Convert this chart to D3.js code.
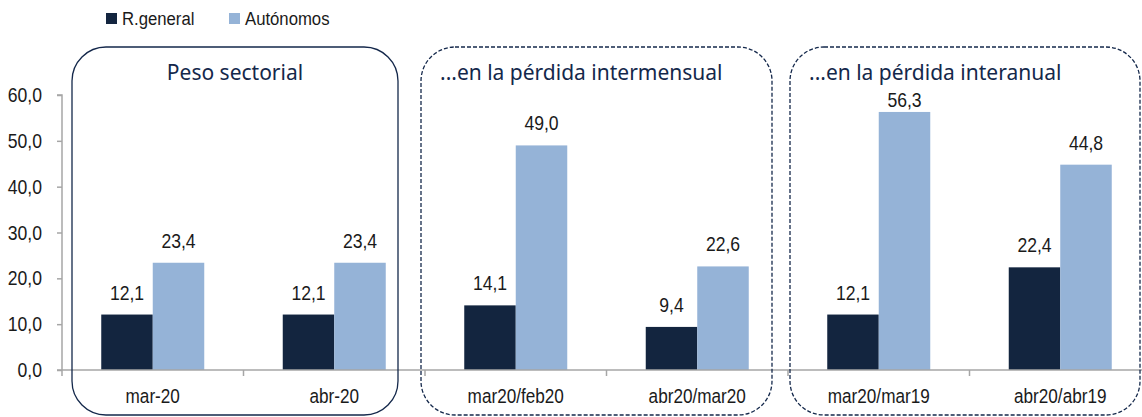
<!DOCTYPE html>
<html>
<head>
<meta charset="utf-8">
<script src="https://cdn.jsdelivr.net/npm/d3@7"></script>
<style>
  body { margin: 0; background: #fff; }
  svg { display: block; }
  .lbl { font-family: "Liberation Sans Narrow", "Arial Narrow", "Liberation Sans", Arial, sans-serif; font-weight: normal; }
</style>
</head>
<body>
<svg id="chart" width="1142" height="417"></svg>
<script>
// Data
var categories = ["mar-20", "abr-20", "mar20/feb20", "abr20/mar20", "mar20/mar19", "abr20/abr19"];
var seriesNames = ["R.general", "Autónomos"];
var rGeneral = [12.1, 12.1, 14.1, 9.4, 12.1, 22.4];
var autonomos = [23.4, 23.4, 49.0, 22.6, 56.3, 44.8];
var yTicks = [0, 10, 20, 30, 40, 50, 60];
var boxTitles = ["Peso sectorial", "...en la pérdida intermensual", "...en la pérdida interanual"];

var colors = ["#13253f", "#95b3d7"];
var navy = "#14284b";
var textColor = "#1a1a1a";
var narrow = 0.88; // squeeze to mimic Arial Narrow

var svg = d3.select("#chart");
var margin = {left: 62, top: 95, bottom: 370};
var bandW = 181.5;

var x = d3.scaleBand()
	.domain(categories)
	.range([margin.left, margin.left + bandW * categories.length])
	.paddingInner(0).paddingOuter(0);

var y = d3.scaleLinear().domain([0, 60]).range([margin.bottom, margin.top]);

var barW = 51.5;
var xs = d3.scaleBand().domain(seriesNames)
	.range([x.bandwidth() / 2 - barW, x.bandwidth() / 2 + barW]);

var fmt = function(v) { return d3.format(".1f")(v).replace(".", ","); };

function narrowText(parent, px, py, anchor, size, str) {
	return parent.append("text").attr("class", "lbl")
		.attr("transform", "translate(" + px + "," + py + ") scale(" + narrow + ",1)")
		.attr("text-anchor", anchor)
		.style("font-size", size + "px").attr("fill", textColor)
		.text(str);
}

// Boxes (annotation frames), layout in pixels
var boxes = [
	{x0: 72, x1: 398, dash: null},
	{x0: 421, x1: 772, dash: "4,2"},
	{x0: 790, x1: 1140, dash: "4,2"}
];

// Y axis
var yAxis = d3.axisLeft(y).tickValues(yTicks).tickSize(5).tickFormat("");
var gy = svg.append("g").attr("transform", "translate(" + margin.left + ",0)").call(yAxis);
gy.select(".domain").attr("stroke", "#a6a6a6").attr("stroke-width", 1.5).attr("d", "M-5," + y(60) + "H0V" + y(0));
gy.selectAll(".tick line").attr("stroke", "#a6a6a6").attr("stroke-width", 1.5);
yTicks.forEach(function(t) {
	narrowText(svg, margin.left - 20, y(t) + 7, "end", 20, fmt(t));
});

// Bars
var series = [rGeneral, autonomos];
var groups = svg.append("g");
categories.forEach(function(c, i) {
	series.forEach(function(s, j) {
		var bx = x(c) + xs(seriesNames[j]);
		groups.append("rect")
			.attr("x", bx).attr("width", xs.bandwidth())
			.attr("y", y(s[i])).attr("height", y(0) - y(s[i]))
			.attr("fill", colors[j]);
		// label sits above the bar, but stays below the frame titles
		narrowText(groups, bx + xs.bandwidth() / 2, Math.max(y(s[i]) - 15, 107), "middle", 20, fmt(s[i]));
	});
});

// X axis
var gx = svg.append("g").attr("transform", "translate(0," + y(0) + ")");
gx.append("line").attr("x1", margin.left - 5).attr("x2", 1142).attr("stroke", "#a6a6a6").attr("stroke-width", 1.5);
categories.forEach(function(c, i) {
	gx.append("line").attr("x1", x(c)).attr("x2", x(c)).attr("y1", 0).attr("y2", 6)
		.attr("stroke", "#a6a6a6").attr("stroke-width", 1.5);
	narrowText(gx, x(c) + x.bandwidth() / 2, 33, "middle", 19.5, c);
});

// Frames and titles
boxes.forEach(function(b, i) {
	svg.append("rect")
		.attr("x", b.x0).attr("y", 47).attr("width", b.x1 - b.x0).attr("height", 368)
		.attr("rx", 34).attr("ry", 34)
		.attr("fill", "none").attr("stroke", navy).attr("stroke-width", 1.3)
		.attr("stroke-dasharray", b.dash);
	var t = svg.append("text")
		.attr("y", 80)
		.style("font-family", "'Comic Sans MS', 'Noto Sans', sans-serif")
		.style("font-size", "21px").attr("fill", navy)
		.text(boxTitles[i]);
	if (i === 0) t.attr("x", (b.x0 + b.x1) / 2).attr("text-anchor", "middle");
	else t.attr("x", b.x0 + 19);
});

// Legend
var legend = [{x: 106}, {x: 229}];
legend.forEach(function(l, i) {
	svg.append("rect").attr("x", l.x).attr("y", 13).attr("width", 11).attr("height", 11).attr("fill", colors[i]);
	narrowText(svg, l.x + 16, 25, "start", 19, seriesNames[i]);
});
</script>
</body>
</html>
